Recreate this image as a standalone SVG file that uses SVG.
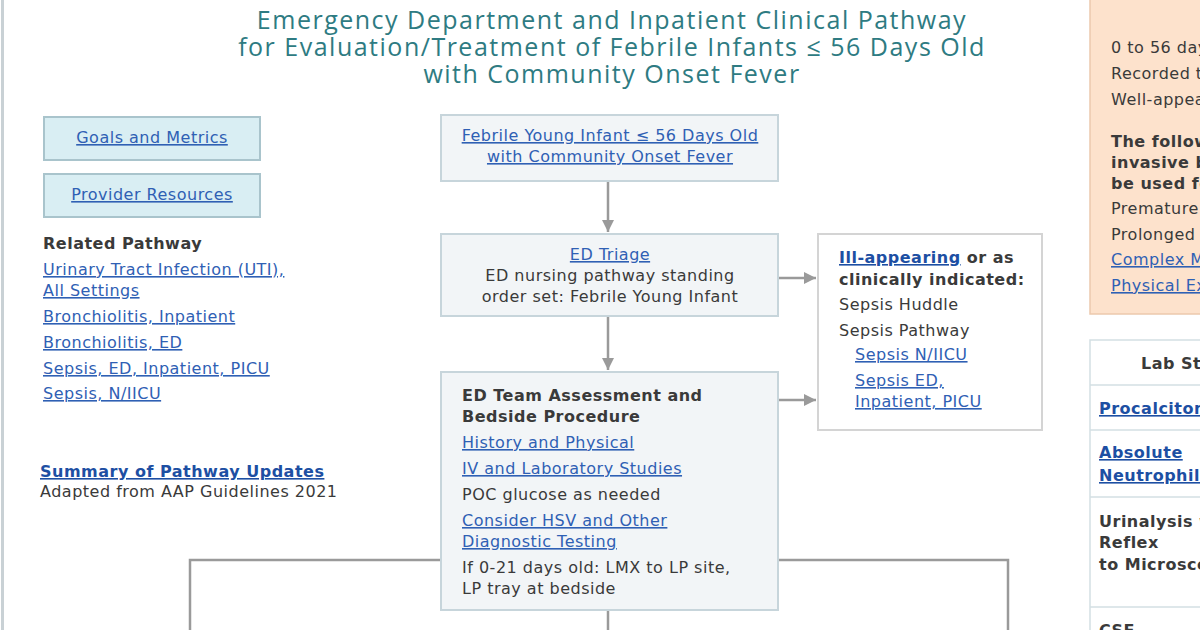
<svg xmlns="http://www.w3.org/2000/svg" width="1200" height="630" viewBox="0 0 1200 630">
<defs>
<marker id="ah" viewBox="0 0 10 10" refX="10" refY="5" markerWidth="12" markerHeight="12" markerUnits="userSpaceOnUse" orient="auto">
<path d="M0,0 L10,5 L0,10 z" fill="#9a9a9a"/>
</marker>
<style>
text{font-family:"DejaVu Sans",Verdana,sans-serif;font-size:16px;letter-spacing:0.5px;fill:#3a3a3a}
.title{font-family:"Open Sans","DejaVu Sans",sans-serif;font-size:25px;letter-spacing:1.5px;fill:#2e7b82;text-anchor:middle}
.lk{fill:#2f60b4;text-decoration:underline}
.b{font-weight:bold}
.blk{fill:#1d4fa3;font-weight:bold;text-decoration:underline}
.c{text-anchor:middle}
.side{fill:#d9eef3;stroke:#a9c4cc;stroke-width:2}
.node{fill:#f2f5f7;stroke:#c7d5db;stroke-width:2}
.conn{stroke:#9a9a9a;stroke-width:2.5;fill:none}
.cell{fill:none;stroke:#d3dfe3;stroke-width:1.5}
</style>
</defs>
<rect width="1200" height="630" fill="#ffffff"/>
<line x1="2.5" y1="0" x2="2.5" y2="630" stroke="#c9d1d5" stroke-width="3"/>

<g id="title">
<text class="title" x="612" y="29">Emergency Department and Inpatient Clinical Pathway</text>
<text class="title" x="612" y="56">for Evaluation/Treatment of Febrile Infants ≤ 56 Days Old</text>
<text class="title" x="612" y="83">with Community Onset Fever</text>
</g>

<g id="goals">
<rect class="side" x="44" y="117" width="216" height="43"/>
<text class="lk c" x="152" y="143">Goals and Metrics</text>
</g>
<g id="resources">
<rect class="side" x="44" y="174" width="216" height="43"/>
<text class="lk c" x="152" y="200">Provider Resources</text>
</g>

<g id="related">
<text class="b" x="43" y="249">Related Pathway</text>
<text class="lk" x="43" y="275">Urinary Tract Infection (UTI),</text>
<text class="lk" x="43" y="296">All Settings</text>
<text class="lk" x="43" y="322">Bronchiolitis, Inpatient</text>
<text class="lk" x="43" y="348">Bronchiolitis, ED</text>
<text class="lk" x="43" y="374">Sepsis, ED, Inpatient, PICU</text>
<text class="lk" x="43" y="399">Sepsis, N/IICU</text>
</g>

<g id="summary">
<text class="blk" x="40" y="477">Summary of Pathway Updates</text>
<text x="40" y="497">Adapted from AAP Guidelines 2021</text>
</g>

<g id="connectors">
<line class="conn" x1="608" y1="182" x2="608" y2="232" marker-end="url(#ah)"/>
<line class="conn" x1="608" y1="317" x2="608" y2="370" marker-end="url(#ah)"/>
<line class="conn" x1="779" y1="278" x2="816" y2="278" marker-end="url(#ah)"/>
<line class="conn" x1="779" y1="400" x2="816" y2="400" marker-end="url(#ah)"/>
<polyline class="conn" points="441,560 190,560 190,630"/>
<polyline class="conn" points="778,560 1008,560 1008,630"/>
<line class="conn" x1="608" y1="611" x2="608" y2="630"/>
</g>

<g id="start">
<rect class="node" x="441" y="115" width="337" height="66"/>
<text class="lk c" x="610" y="141">Febrile Young Infant ≤ 56 Days Old</text>
<text class="lk c" x="610" y="162">with Community Onset Fever</text>
</g>

<g id="triage">
<rect class="node" x="441" y="234" width="337" height="82"/>
<text class="lk c" x="610" y="260">ED Triage</text>
<text class="c" x="610" y="281">ED nursing pathway standing</text>
<text class="c" x="610" y="302">order set: Febrile Young Infant</text>
</g>

<g id="assessment">
<rect class="node" x="441" y="372" width="337" height="238"/>
<text class="b" x="462" y="401">ED Team Assessment and</text>
<text class="b" x="462" y="422">Bedside Procedure</text>
<text class="lk" x="462" y="448">History and Physical</text>
<text class="lk" x="462" y="474">IV and Laboratory Studies</text>
<text x="462" y="500">POC glucose as needed</text>
<text class="lk" x="462" y="526">Consider HSV and Other</text>
<text class="lk" x="462" y="547">Diagnostic Testing</text>
<text x="462" y="573">If 0-21 days old: LMX to LP site,</text>
<text x="462" y="594">LP tray at bedside</text>
</g>

<g id="ill">
<rect x="818" y="234" width="224" height="196" fill="#ffffff" stroke="#d4d4d4" stroke-width="2"/>
<text class="b" x="839" y="263"><tspan class="blk">Ill-appearing</tspan> or as</text>
<text class="b" x="839" y="285">clinically indicated:</text>
<text x="839" y="310">Sepsis Huddle</text>
<text x="839" y="336">Sepsis Pathway</text>
<text class="lk" x="855" y="360">Sepsis N/IICU</text>
<text class="lk" x="855" y="386">Sepsis ED,</text>
<text class="lk" x="855" y="407">Inpatient, PICU</text>
</g>

<g id="criteria">
<rect x="1090" y="-2" width="120" height="316" fill="#fde2cc" stroke="#ecc9ad" stroke-width="1.5"/>
<text x="1111" y="53">0 to 56 days</text>
<text x="1111" y="79">Recorded temp</text>
<text x="1111" y="105">Well-appearing</text>
<text class="b" x="1111" y="147">The following</text>
<text class="b" x="1111" y="168">invasive bacterial</text>
<text class="b" x="1111" y="189">be used for</text>
<text x="1111" y="214">Premature</text>
<text x="1111" y="240">Prolonged</text>
<text class="lk" x="1111" y="265">Complex Medical</text>
<text class="lk" x="1111" y="291">Physical Exam</text>
</g>

<g id="labs">
<rect x="1090" y="340" width="130" height="300" fill="#ffffff" stroke="#d3dfe3" stroke-width="1.5"/>
<line class="cell" x1="1090" y1="385" x2="1200" y2="385"/>
<line class="cell" x1="1090" y1="430" x2="1200" y2="430"/>
<line class="cell" x1="1090" y1="497" x2="1200" y2="497"/>
<line class="cell" x1="1090" y1="607" x2="1200" y2="607"/>
<text class="b" x="1141" y="369">Lab Studies</text>
<text class="blk" x="1099" y="414">Procalcitonin</text>
<text class="blk" x="1099" y="458">Absolute</text>
<text class="blk" x="1099" y="481">Neutrophil Count</text>
<text class="b" x="1099" y="527">Urinalysis with</text>
<text class="b" x="1099" y="548">Reflex</text>
<text class="b" x="1099" y="570">to Microscopy</text>
<text class="b" x="1099" y="636">CSF</text>
</g>
</svg>
